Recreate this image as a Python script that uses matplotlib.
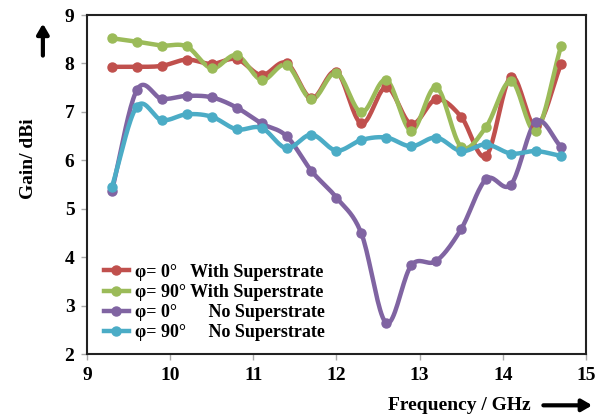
import numpy as np
import matplotlib
matplotlib.use("Agg")
import matplotlib.pyplot as plt
from matplotlib.lines import Line2D
from matplotlib.patches import FancyArrowPatch

# donnees
freq = [9.3, 9.6, 9.9, 10.2, 10.5, 10.8, 11.1, 11.4, 11.7, 12.0,
        12.3, 12.6, 12.9, 13.2, 13.5, 13.8, 14.1, 14.4, 14.7]
gain_0_sup = [7.93, 7.93, 7.95, 8.08, 7.99, 8.09, 7.76, 8.01, 7.28, 7.83,
              6.76, 7.51, 6.75, 7.26, 6.90, 6.09, 7.73, 6.70, 7.98]
gain_90_sup = [8.52, 8.45, 8.37, 8.35, 7.90, 8.17, 7.66, 7.97, 7.26, 7.81,
               6.99, 7.66, 6.61, 7.51, 6.28, 6.69, 7.64, 6.61, 8.35]
gain_0_nosup = [5.37, 7.45, 7.27, 7.33, 7.30, 7.09, 6.76, 6.50, 5.78, 5.23,
                4.49, 2.64, 3.83, 3.92, 4.58, 5.61, 5.50, 6.80, 6.28]
gain_90_nosup = [5.45, 7.11, 6.83, 6.95, 6.90, 6.64, 6.67, 6.25, 6.53, 6.20,
                 6.42, 6.47, 6.29, 6.47, 6.19, 6.33, 6.14, 6.19, 6.09]

labels = ["φ= 0°   With Superstrate",
          "φ= 90° With Superstrate",
          "φ= 0°       No Superstrate",
          "φ= 90°     No Superstrate"]
couleurs = ["#C0504D", "#9BBB59", "#8064A2", "#4BACC6"]


def lisse(x, y, n=20):
    """courbe lissee facon Excel (Catmull-Rom)"""
    x = np.asarray(x, float)
    y = np.asarray(y, float)
    px = np.concatenate([[2 * x[0] - x[1]], x, [2 * x[-1] - x[-2]]])
    py = np.concatenate([[2 * y[0] - y[1]], y, [2 * y[-1] - y[-2]]])
    xs, ys = [], []
    t = np.linspace(0, 1, n, endpoint=False)
    for i in range(1, len(px) - 2):
        for p, out in ((px, xs), (py, ys)):
            p0, p1, p2, p3 = p[i - 1], p[i], p[i + 1], p[i + 2]
            out.extend(0.5 * (2 * p1 + (-p0 + p2) * t
                              + (2 * p0 - 5 * p1 + 4 * p2 - p3) * t ** 2
                              + (-p0 + 3 * p1 - 3 * p2 + p3) * t ** 3))
    xs.append(x[-1])
    ys.append(y[-1])
    return xs, ys


plt.rcParams["font.family"] = ["Liberation Serif", "DejaVu Serif"]
plt.rcParams["font.weight"] = "bold"

fig = plt.figure(figsize=(6.04, 4.17), dpi=100)
ax = fig.add_axes([0.144, 0.151, 0.826, 0.813])

series = [gain_0_sup, gain_90_sup, gain_0_nosup, gain_90_nosup]
handles = []
for vals, c, lab in zip(series, couleurs, labels):
    xs, ys = lisse(freq, vals)
    ax.plot(xs, ys, color=c, lw=3.2, solid_capstyle="round", zorder=2)
    ax.plot(freq, vals, "o", color=c, ms=6.5, zorder=3)
    handles.append(Line2D([], [], color=c, lw=3.2, marker="o", ms=6.5))

ax.set_xlim(9, 15)
ax.set_ylim(2, 9)
ax.set_xticks(range(9, 16))
ax.set_yticks(range(2, 10))
ax.tick_params(labelsize=14, length=4, color="#aaaaaa", width=1, pad=5)
for s in ax.spines.values():
    s.set_linewidth(1.5)
    s.set_color("#222222")

ax.legend(handles, labels, loc="lower left", bbox_to_anchor=(0.008, 0.0),
          frameon=False, fontsize=13, handlelength=1.4, handletextpad=0.35,
          labelspacing=0.18, borderaxespad=0.3)

fig.text(0.047, 0.62, "Gain/ dBi", rotation=90, fontsize=14, ha="center", va="center")
fig.text(0.76, 0.028, "Frequency / GHz", fontsize=14, ha="center", va="center")

# fleches
fig.add_artist(FancyArrowPatch(
    (0.071, 0.86), (0.071, 0.95), transform=fig.transFigure,
    arrowstyle="-|>,head_length=6,head_width=3.5", lw=3, color="black", mutation_scale=1))
fig.add_artist(FancyArrowPatch(
    (0.895, 0.028), (0.985, 0.028), transform=fig.transFigure,
    arrowstyle="-|>,head_length=6,head_width=3.5", lw=3, color="black", mutation_scale=1))

fig.savefig("out.png", dpi=100)
